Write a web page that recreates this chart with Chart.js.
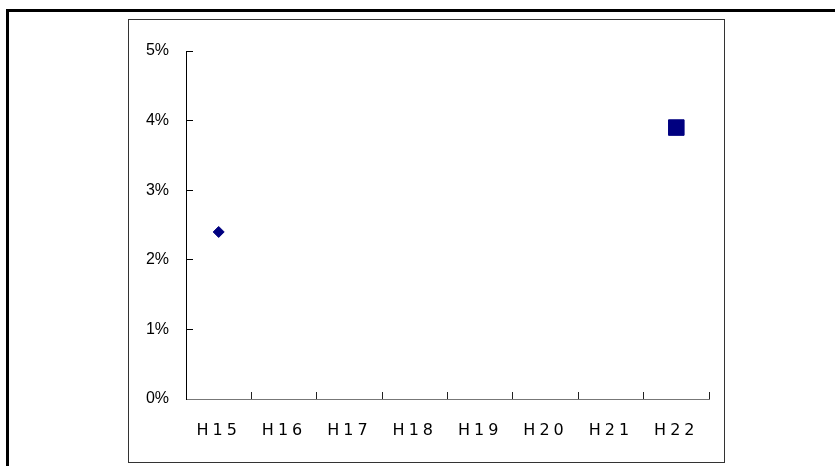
<!DOCTYPE html>
<html>
<head>
<meta charset="utf-8">
<script src="https://cdn.jsdelivr.net/npm/chart.js@4/dist/chart.umd.min.js"></script>
<style>
  html, body { margin: 0; padding: 0; background: #fff; overflow: hidden; }
  #wrap { position: relative; width: 835px; height: 466px; }
  .outer { position: absolute; left: 6px; top: 9px; width: 900px; height: 600px; border: 3px solid #000; box-sizing: border-box; }
  .inner { position: absolute; left: 128px; top: 19px; width: 597px; height: 444px; border: 1px solid #333; box-sizing: border-box; }
  canvas { position: absolute; left: 0; top: 0; z-index: 1; }
</style>
</head>
<body>
<div id="wrap">
  <div class="outer"></div>
  <div class="inner"></div>
  <canvas id="grafik" width="835" height="466"></canvas>
</div>
<script>
const kategori = ['H15', 'H16', 'H17', 'H18', 'H19', 'H20', 'H21', 'H22'];
const nilaiBelahKetupat = [2.4, null, null, null, null, null, null, null];
const nilaiKotak = [null, null, null, null, null, null, null, 3.9];
const yMin = 0;
const yMax = 5;
const yStep = 1;

const warnaTitik = '#000080';

// x labels are spaced out wider than normal, y labels are not
const jarakHuruf = {
  id: 'jarakHuruf',
  afterDatasetsDraw(chart) { chart.ctx.letterSpacing = '4px'; },
  afterDraw(chart) { chart.ctx.letterSpacing = '0px'; }
};

new Chart(document.getElementById('grafik'), {
  type: 'line',
  data: {
    labels: kategori,
    datasets: [
      {
        label: 'a',
        data: nilaiBelahKetupat,
        showLine: false,
        pointStyle: 'rectRot',
        pointRadius: 5.5,
        borderWidth: 1,
        borderColor: warnaTitik,
        backgroundColor: warnaTitik
      },
      {
        label: 'b',
        data: nilaiKotak,
        showLine: false,
        pointStyle: 'rect',
        pointRadius: 11,
        borderWidth: 1,
        borderColor: warnaTitik,
        backgroundColor: warnaTitik
      }
    ]
  },
  options: {
    responsive: false,
    animation: false,
    events: [],
    layout: { padding: { top: 51, right: 126, left: 126, bottom: 17 } },
    plugins: { legend: { display: false }, tooltip: { enabled: false } },
    scales: {
      x: {
        offset: true,
        grid: { offset: true, drawOnChartArea: false, tickLength: -7, color: '#222', lineWidth: 1 },
        border: { color: '#777', width: 1 },
        ticks: {
          z: 1,
          padding: 29,
          color: '#000',
          autoSkip: false,
          maxRotation: 0,
          font: { family: '"DejaVu Sans", sans-serif', size: 16 }
        },
        afterFit(s) { s.height = 50; }
      },
      y: {
        min: yMin,
        max: yMax,
        grid: { drawOnChartArea: false, tickLength: -7, color: '#000', lineWidth: 1 },
        border: { color: '#000', width: 1 },
        ticks: {
          stepSize: yStep,
          padding: 24,
          color: '#000',
          font: { family: '"Liberation Sans", sans-serif', size: 16 },
          callback: v => v + '%'
        },
        afterFit(s) { s.width = 60; }
      }
    }
  },
  plugins: [jarakHuruf]
});
</script>
</body>
</html>
